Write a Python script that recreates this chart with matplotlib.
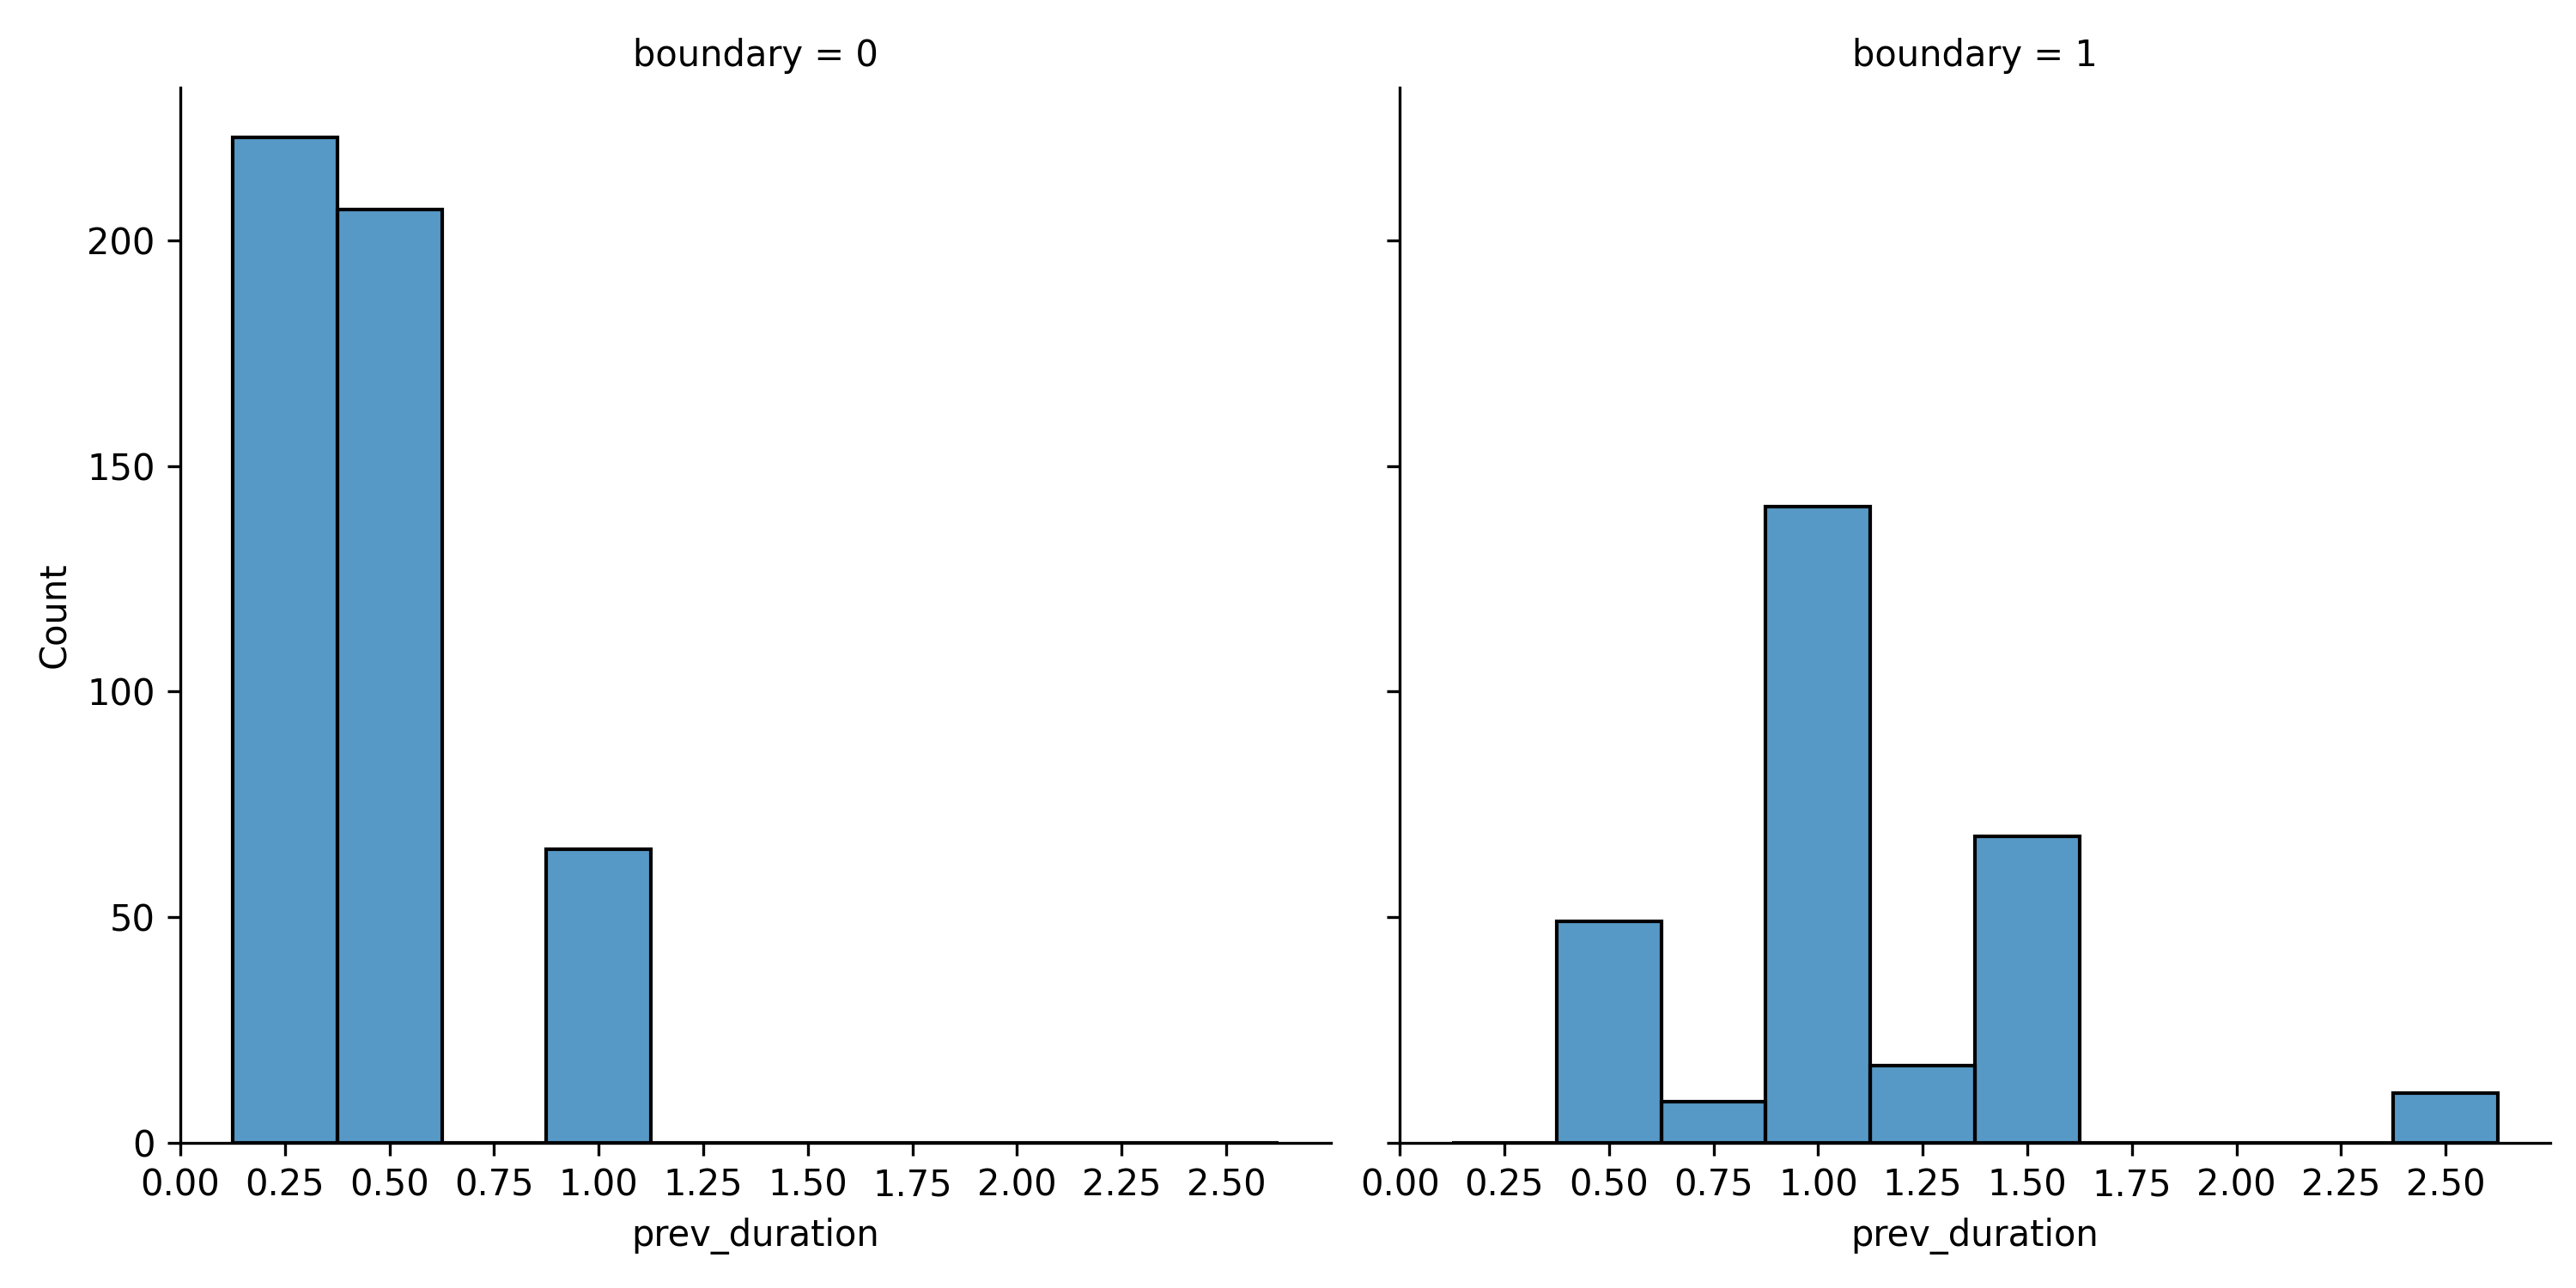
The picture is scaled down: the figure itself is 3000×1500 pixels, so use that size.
import numpy as np
import matplotlib.pyplot as plt

# histogram bins (prev_duration) and counts per boundary panel
bin_edges = [0.125, 0.375, 0.625, 0.875, 1.125, 1.375, 1.625, 1.875, 2.125, 2.375, 2.625]
counts_b0 = [223, 207, 0, 65, 0, 0, 0, 0, 0, 0]
counts_b1 = [0, 49, 9, 141, 17, 68, 0, 0, 0, 11]
panels = ["0", "1"]

centers = (np.array(bin_edges[:-1]) + np.array(bin_edges[1:])) / 2

fig, axes = plt.subplots(1, 2, figsize=(10, 5), dpi=300, sharex=True, sharey=True)
fig.subplots_adjust(left=0.07, right=0.99, bottom=0.113, top=0.932, wspace=0.06)

for ax, counts, name in zip(axes, [counts_b0, counts_b1], panels):
    ax.hist(centers, bins=bin_edges, weights=counts, color='#1f77b4', alpha=0.75,
            edgecolor='none')
    ax.hist(centers, bins=bin_edges, weights=counts, facecolor='none',
            edgecolor='black', linewidth=1)
    ax.set_title(f'boundary = {name}', fontsize=10)
    ax.set_xlabel('prev_duration')
    ax.spines['top'].set_visible(False)
    ax.spines['right'].set_visible(False)
    ax.set_xticks(np.arange(0, 2.51, 0.25))

axes[0].set_ylabel('Count')
axes[0].set_xlim(-0.0, 2.75)
axes[0].set_ylim(0, 234)

plt.savefig('out.png')
